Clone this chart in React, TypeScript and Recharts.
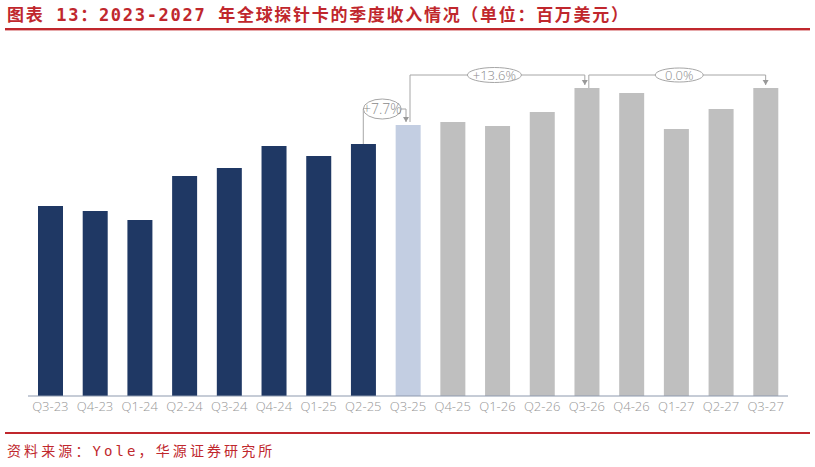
import React from 'react';
import { BarChart, Bar, XAxis, YAxis, Cell, ReferenceLine, ReferenceDot } from 'recharts';

// ---- data ----
const quarters = ['Q3-23', 'Q4-23', 'Q1-24', 'Q2-24', 'Q3-24', 'Q4-24', 'Q1-25', 'Q2-25', 'Q3-25', 'Q4-25', 'Q1-26', 'Q2-26', 'Q3-26', 'Q4-26', 'Q1-27', 'Q2-27', 'Q3-27'];
const revenue = [190, 185, 176, 220, 228, 250, 240, 252, 271, 274, 270, 284, 308, 303, 267, 287, 308];
const growthLabels = ['+7.7%', '+13.6%', '0.0%'];
const growthFrom = ['Q2-25', 'Q3-25', 'Q3-26'];
const growthTo = ['Q3-25', 'Q3-26', 'Q3-27'];

const ACTUAL_COUNT = 8; // Q3-23 .. Q2-25 actual
const CURRENT_INDEX = 8; // Q3-25

const data = quarters.map((q, i) => ({ q, revenue: revenue[i] }));
const valueOf = (q: string) => revenue[quarters.indexOf(q)];

const NAVY = '#1f3864';
const LIGHT = '#c3cee2';
const GRAY = '#bfbfbf';
const RED = '#c0272d';
const LINE = '#a6a6a6';

const segShape = (dx1: number, dx2: number) => (p: any) => (
  <line x1={p.x1 + dx1} y1={p.y1} x2={p.x2 + dx2} y2={p.y2} stroke={LINE} strokeWidth={1} />
);

const arrowShape = (dx: number) => (p: any) => (
  <path d={`M${p.cx + dx - 3},${p.cy - 5} L${p.cx + dx + 3},${p.cy - 5} L${p.cx + dx},${p.cy} Z`} fill="#999" />
);

const bubbleShape = (label: string, dx: number, rx: number, ry: number, fs: number) => (p: any) => (
  <g>
    <ellipse cx={p.cx + dx} cy={p.cy} rx={rx} ry={ry} fill="#fff" stroke={LINE} strokeWidth={1} />
    <text x={p.cx + dx} y={p.cy} dy="0.35em" textAnchor="middle" fontSize={fs} fill="#8a8a8a"
      fontFamily="'Open Sans', sans-serif" fontWeight={300}>{label}</text>
  </g>
);

const LEVEL1 = 287;
const LEVEL2 = 321;

export default function App() {
  const b1Arrow = valueOf(growthTo[0]) + 3;
  const b2Arrow = valueOf(growthTo[1]) + 3;
  const b3Arrow = valueOf(growthTo[2]) + 3;
  return (
    <div style={{ position: 'absolute', left: 0, top: 0, width: 815, height: 467, background: '#fff', overflow: 'hidden' }}>
      <div style={{
        position: 'absolute', left: 7, top: 3, fontSize: 17, fontWeight: 700, color: RED, letterSpacing: 1.7,
        fontFamily: "'DejaVu Sans Mono', 'Noto Sans CJK SC', sans-serif", whiteSpace: 'nowrap', lineHeight: '24px'
      }}>图表 13：2023-2027 年全球探针卡的季度收入情况（单位：百万美元）</div>
      <div style={{ position: 'absolute', left: 5, top: 28, width: 805, height: 2, background: RED }} />
      <div style={{ position: 'absolute', left: 5, top: 30, width: 805, height: 1, background: '#e6a9ab' }} />

      <div style={{ position: 'absolute', left: 0, top: 0 }}>
        <BarChart width={815} height={467} data={data} margin={{ top: 56, right: 27, left: 28, bottom: 41 }}>
          <XAxis dataKey="q" height={30} tickLine={false} axisLine={{ stroke: '#8d99ae', strokeWidth: 1 }}
            tickSize={6} tickMargin={0} interval={0}
            tick={{ fill: '#969696', fontSize: 13, fontFamily: "'Open Sans', sans-serif", fontWeight: 300 }} />
          <YAxis hide domain={[0, 340]} />
          <Bar dataKey="revenue" barSize={25} isAnimationActive={false}>
            {data.map((d, i) => (
              <Cell key={d.q} fill={i < ACTUAL_COUNT ? NAVY : i === CURRENT_INDEX ? LIGHT : GRAY} />
            ))}
          </Bar>

          {/* bracket 1 */}
          <ReferenceLine ifOverflow="visible" segment={[{ x: growthFrom[0], y: valueOf(growthFrom[0]) }, { x: growthFrom[0], y: LEVEL1 }]} shape={segShape(0, 0)} />
          <ReferenceLine ifOverflow="visible" segment={[{ x: growthFrom[0], y: LEVEL1 }, { x: growthTo[0], y: LEVEL1 }]} shape={segShape(0, -2)} />
          <ReferenceLine ifOverflow="visible" segment={[{ x: growthTo[0], y: LEVEL1 }, { x: growthTo[0], y: b1Arrow }]} shape={segShape(-2, -2)} />
          {/* bracket 2 */}
          <ReferenceLine ifOverflow="visible" segment={[{ x: growthFrom[1], y: valueOf(growthFrom[1]) + 3 }, { x: growthFrom[1], y: LEVEL2 }]} shape={segShape(2, 2)} />
          <ReferenceLine ifOverflow="visible" segment={[{ x: growthFrom[1], y: LEVEL2 }, { x: growthTo[1], y: LEVEL2 }]} shape={segShape(2, -2)} />
          <ReferenceLine ifOverflow="visible" segment={[{ x: growthTo[1], y: LEVEL2 }, { x: growthTo[1], y: b2Arrow }]} shape={segShape(-2, -2)} />
          {/* bracket 3 */}
          <ReferenceLine ifOverflow="visible" segment={[{ x: growthFrom[2], y: valueOf(growthFrom[2]) }, { x: growthFrom[2], y: LEVEL2 }]} shape={segShape(2, 2)} />
          <ReferenceLine ifOverflow="visible" segment={[{ x: growthFrom[2], y: LEVEL2 }, { x: growthTo[2], y: LEVEL2 }]} shape={segShape(2, 0)} />
          <ReferenceLine ifOverflow="visible" segment={[{ x: growthTo[2], y: LEVEL2 }, { x: growthTo[2], y: b3Arrow }]} shape={segShape(0, 0)} />

          <ReferenceDot ifOverflow="visible" x={growthTo[0]} y={b1Arrow} r={3} shape={arrowShape(-2)} />
          <ReferenceDot ifOverflow="visible" x={growthTo[1]} y={b2Arrow} r={3} shape={arrowShape(-2)} />
          <ReferenceDot ifOverflow="visible" x={growthTo[2]} y={b3Arrow} r={3} shape={arrowShape(0)} />

          <ReferenceDot ifOverflow="visible" x={growthFrom[0]} y={LEVEL1} r={3} shape={bubbleShape(growthLabels[0], 19, 19, 10, 14)} />
          <ReferenceDot ifOverflow="visible" x="Q1-26" y={LEVEL2} r={3} shape={bubbleShape(growthLabels[1], -3, 27, 7.5, 13)} />
          <ReferenceDot ifOverflow="visible" x="Q1-27" y={LEVEL2} r={3} shape={bubbleShape(growthLabels[2], 3, 24, 7, 13)} />
        </BarChart>
      </div>

      <div style={{ position: 'absolute', left: 5, top: 432, width: 805, height: 2, background: RED }} />
      <div style={{
        position: 'absolute', left: 7, top: 441, fontSize: 14, color: RED, letterSpacing: 3.1,
        fontFamily: "'DejaVu Sans Mono', 'Noto Sans CJK SC', sans-serif", whiteSpace: 'nowrap', lineHeight: '20px'
      }}>资料来源：Yole，华源证券研究所</div>
    </div>
  );
}
